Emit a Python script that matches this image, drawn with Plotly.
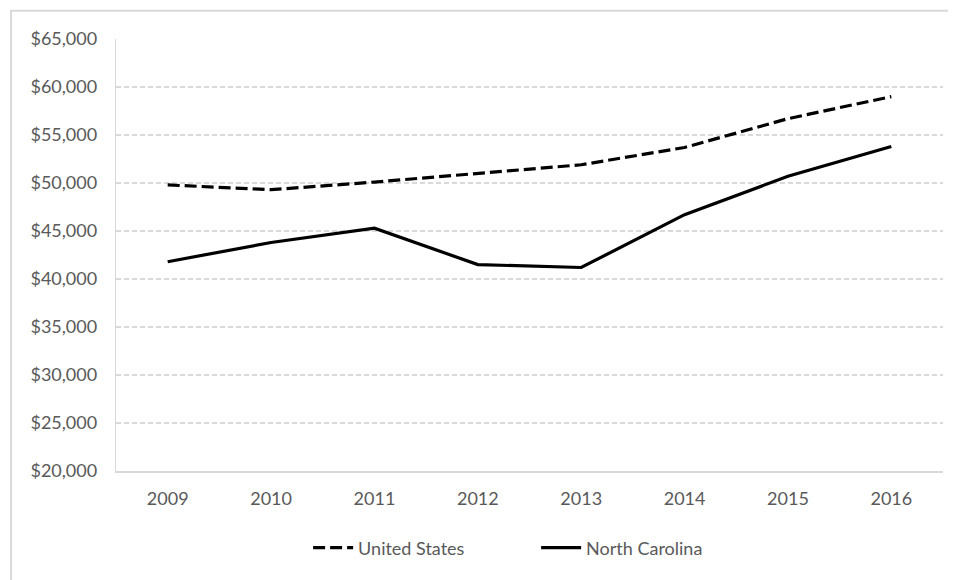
import plotly.graph_objects as go

years = ["2009", "2010", "2011", "2012", "2013", "2014", "2015", "2016"]
us_values = [49800, 49300, 50100, 51000, 51900, 53700, 56700, 59000]
nc_values = [41800, 43800, 45300, 41500, 41200, 46700, 50700, 53800]
y_ticks = [20000, 25000, 30000, 35000, 40000, 45000, 50000, 55000, 60000, 65000]
y_tick_labels = ["$20,000", "$25,000", "$30,000", "$35,000", "$40,000",
                 "$45,000", "$50,000", "$55,000", "$60,000", "$65,000"]

FONT = "Lato"
TXT = "#595959"
GRID = "#d9d9d9"

fig = go.Figure()
fig.add_trace(go.Scatter(x=years, y=us_values, mode="lines", name="United States",
                         line=dict(color="black", width=3.2, dash="12px,5px")))
fig.add_trace(go.Scatter(x=years, y=nc_values, mode="lines", name="North Carolina",
                         line=dict(color="black", width=3.2)))

fig.update_layout(
    width=948, height=572,
    margin=dict(l=108, r=13, t=31, b=109),
    paper_bgcolor="white", plot_bgcolor="white",
    font=dict(family=FONT, size=18, color=TXT),
    showlegend=True,
    legend=dict(orientation="h", x=0.508, xanchor="center", y=-0.178, yanchor="middle",
                font=dict(family=FONT, size=18, color=TXT), itemwidth=40,
                entrywidth=173, entrywidthmode="pixels",
                traceorder="normal"),
    xaxis=dict(type="category", range=[-0.5, 7.5], showgrid=False,
               showline=True, linecolor=GRID, linewidth=2, ticks="",
               ticklabelstandoff=10, tickfont=dict(family=FONT, size=18, color=TXT),
               zeroline=False, fixedrange=True),
    yaxis=dict(range=[20000, 65000], tickvals=y_ticks, ticktext=y_tick_labels,
               showgrid=True, gridcolor=GRID, gridwidth=1.5, griddash="5px,3px",
               showline=True, linecolor=GRID, linewidth=1.4, ticks="",
               ticklabelstandoff=14, tickfont=dict(family=FONT, size=18, color=TXT),
               zeroline=False, fixedrange=True),
    shapes=[dict(type="rect", xref="paper", yref="paper",
                 x0=-0.127, x1=1.2, y0=-0.4, y1=1.0656,
                 line=dict(color=GRID, width=2), fillcolor="rgba(0,0,0,0)", layer="below")],
)

fig.write_html("out.html")
